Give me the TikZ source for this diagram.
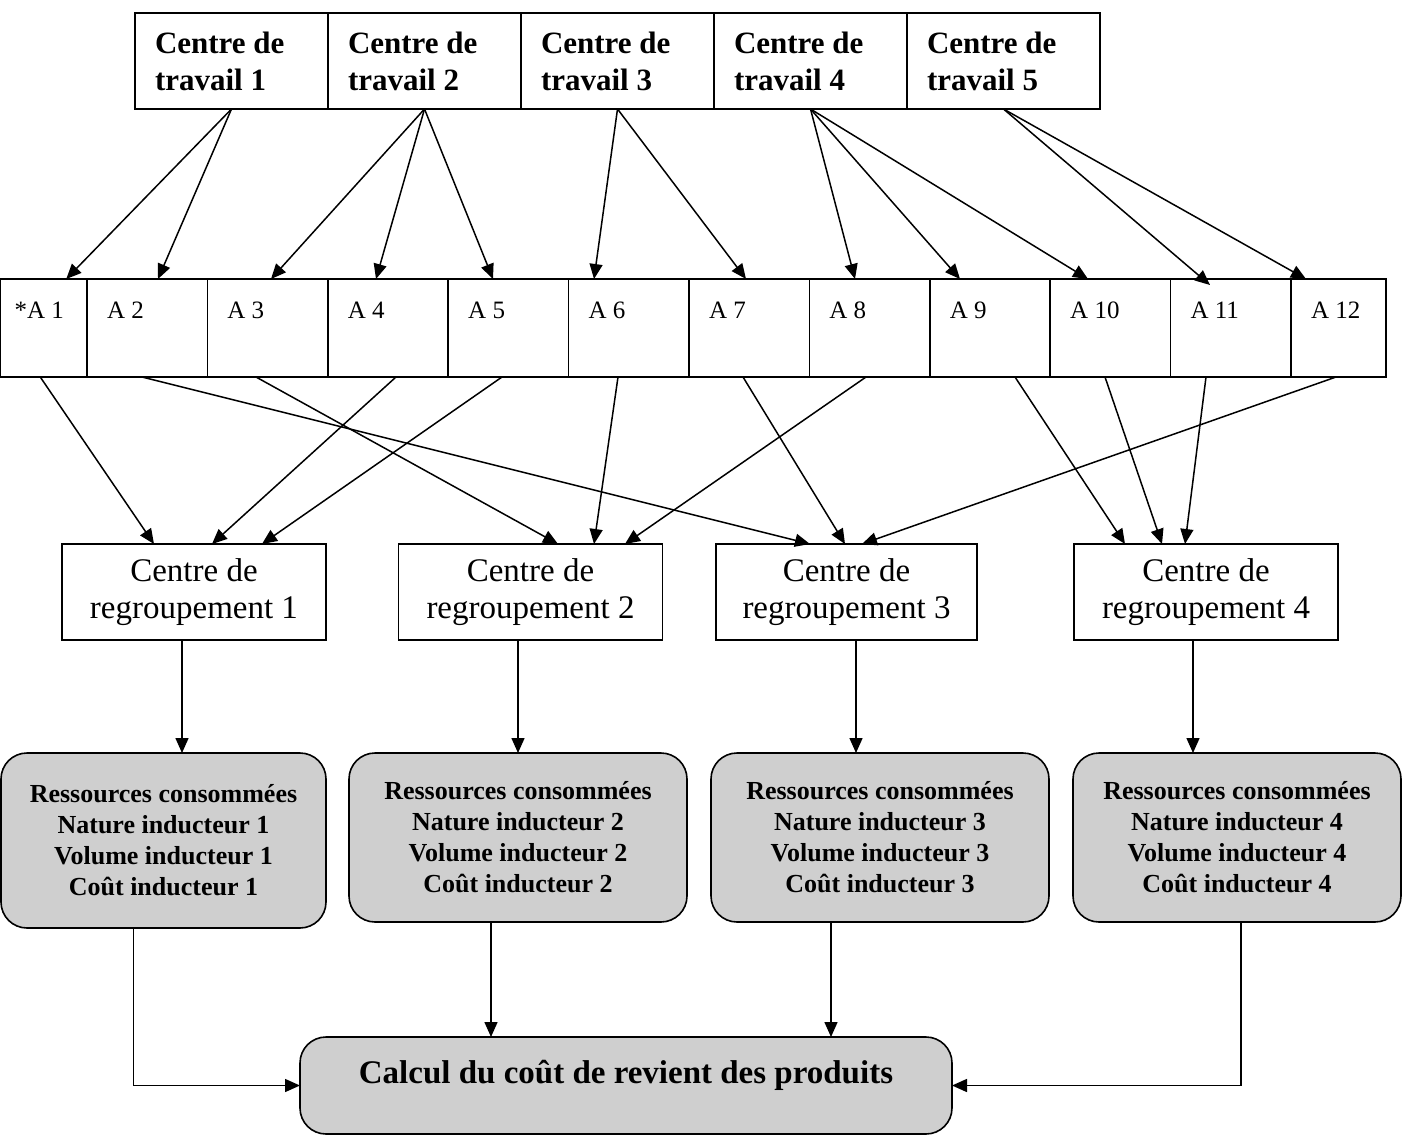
\documentclass[tikz,border=0pt]{standalone}
\usepackage{fontspec}
\setmainfont{Liberation Serif}
\usetikzlibrary{arrows.meta}
\definecolor{patgray}{gray}{0.81}

\begin{document}
\begin{tikzpicture}[x=0.5pt, y=-0.5pt, inner sep=0, outer sep=0, line width=0.8pt,
  workbox/.style={rectangle, draw=black, anchor=north west, align=flush left,
    minimum height=48pt, text width=76.5pt, inner xsep=10pt,
    font=\fontsize{15.5}{18.5}\selectfont\bfseries},
  actbox/.style={rectangle, draw=black, anchor=north west, align=flush left,
    text height=19.5pt, text depth=29.5pt, text width=40.2pt, inner xsep=10pt,
    font=\fontsize{12.5}{15}\selectfont},
  grpbox/.style={rectangle, draw=black, align=center,
    minimum width=132pt, minimum height=48pt,
    font=\fontsize{16.5}{18.5}\selectfont},
  resbox/.style={rectangle, draw=black, fill=patgray, rounded corners=13pt, align=center,
    minimum width=169pt, minimum height=84.5pt,
    font=\fontsize{13}{15.5}\selectfont\bfseries},
  arr/.style={-{Triangle[length=7.5pt, width=6.5pt]}, line width=0.75pt}]

  \useasboundingbox (0,0) rectangle (1403,1135);

  \node[workbox] (ct1) at (135,13) {Centre de\\travail 1};
  \node[workbox] (ct2) at (ct1.north east) {Centre de\\travail 2};
  \node[workbox] (ct3) at (ct2.north east) {Centre de\\travail 3};
  \node[workbox] (ct4) at (ct3.north east) {Centre de\\travail 4};
  \node[workbox] (ct5) at (ct4.north east) {Centre de\\travail 5};

  \node[actbox, text width=29.25pt, inner xsep=7pt] (a1) at (0.5,279) {*A 1};
  \node[actbox] (a2) at (a1.north east) {A 2};
  \node[actbox] (a3) at (a2.north east) {A 3};
  \node[actbox] (a4) at (a3.north east) {A 4};
  \node[actbox] (a5) at (a4.north east) {A 5};
  \node[actbox] (a6) at (a5.north east) {A 6};
  \node[actbox] (a7) at (a6.north east) {A 7};
  \node[actbox] (a8) at (a7.north east) {A 8};
  \node[actbox] (a9) at (a8.north east) {A 9};
  \node[actbox] (a10) at (a9.north east) {A 10};
  \node[actbox] (a11) at (a10.north east) {A 11};
  \node[actbox, text width=27.5pt] (a12) at (a11.north east) {A 12};

  \node[grpbox] (r1) at (194,592) {Centre de\\regroupement 1};
  \node[grpbox] (r2) at (530.5,592) {Centre de\\regroupement 2};
  \node[grpbox, minimum width=130.5pt] (r3) at (846.5,592) {Centre de\\regroupement 3};
  \node[grpbox] (r4) at (1206,592) {Centre de\\regroupement 4};

  \node[resbox, minimum width=162.5pt, minimum height=87.5pt] (g1) at (163.5,840.5)
    {Ressources consommées\\Nature inducteur 1\\Volume inducteur 1\\Coût inducteur 1};
  \node[resbox] (g2) at (518,837.5)
    {Ressources consommées\\Nature inducteur 2\\Volume inducteur 2\\Coût inducteur 2};
  \node[resbox] (g3) at (880,837.5)
    {Ressources consommées\\Nature inducteur 3\\Volume inducteur 3\\Coût inducteur 3};
  \node[resbox, minimum width=164pt] (g4) at (1237,837.5)
    {Ressources consommées\\Nature inducteur 4\\Volume inducteur 4\\Coût inducteur 4};

  \node[resbox, minimum width=326pt, minimum height=48.5pt,
    text height=11pt, text depth=13.5pt,
    font=\fontsize{16.5}{18.5}\selectfont\bfseries] (bot) at (626,1085.5)
    {Calcul du coût de revient des produits};

  % travail -> activites
  \draw[arr] (ct1.south) -- ([xshift=11.25pt]a1.north);
  \draw[arr] (ct1.south) -- ([xshift=5.4pt]a2.north);
  \draw[arr] (ct2.south) -- ([xshift=1.7pt]a3.north);
  \draw[arr] (ct2.south) -- ([xshift=-6pt]a4.north);
  \draw[arr] (ct2.south) -- ([xshift=-7.7pt]a5.north);
  \draw[arr] (ct3.south) -- ([xshift=-17.4pt]a6.north);
  \draw[arr] (ct3.south) -- ([xshift=-1.6pt]a7.north);
  \draw[arr] (ct4.south) -- ([xshift=-7.3pt]a8.north);
  \draw[arr] (ct4.south) -- ([xshift=-15pt]a9.north);
  \draw[arr] (ct4.south) -- ([xshift=-11.2pt]a10.north);
  \draw[arr] (ct5.south) -- ([xshift=-10.4pt, yshift=-3pt]a11.north);
  \draw[arr] (ct5.south) -- ([xshift=-16.25pt]a12.north);

  % activites -> regroupement
  \draw[arr] ([xshift=-1.75pt]a1.south) -- ([xshift=-20pt]r1.north);
  \draw[arr] ([xshift=-2.6pt]a2.south) -- ([xshift=-18.25pt]r3.north);
  \draw[arr] ([xshift=-5.8pt]a3.south) -- ([xshift=13.75pt]r2.north);
  \draw[arr] ([xshift=4pt]a4.south) -- ([xshift=9pt]r1.north);
  \draw[arr] ([xshift=-3.2pt]a5.south) -- ([xshift=34pt]r1.north);
  \draw[arr] ([xshift=-5.4pt]a6.south) -- ([xshift=31.75pt]r2.north);
  \draw[arr] ([xshift=-3.1pt]a7.south) -- ([xshift=-0.75pt]r3.north);
  \draw[arr] ([xshift=-1.8pt]a8.south) -- ([xshift=47.25pt]r2.north);
  \draw[arr] ([xshift=12.5pt]a9.south) -- ([xshift=-40.5pt]r4.north);
  \draw[arr] ([xshift=-2.7pt]a10.south) -- ([xshift=-22pt]r4.north);
  \draw[arr] ([xshift=-12.4pt]a11.south) -- ([xshift=-10.5pt]r4.north);
  \draw[arr] ([xshift=-1.25pt]a12.south) -- ([xshift=7.75pt]r3.north);

  \draw[arr] ([xshift=-6pt]r1.south) -- ([xshift=-6pt]r1.south |- g1.north);
  \draw[arr] ([xshift=-6.25pt]r2.south) -- ([xshift=-6.25pt]r2.south |- g2.north);
  \draw[arr] ([xshift=4.75pt]r3.south) -- ([xshift=4.75pt]r3.south |- g3.north);
  \draw[arr] ([xshift=-6.5pt]r4.south) -- ([xshift=-6.5pt]r4.south |- g4.north);

  \draw[arr] ([xshift=-15pt]g1.south) |- (bot.west);
  \draw[arr] ([xshift=-13.5pt]g2.south) -- ([xshift=-13.5pt]g2.south |- bot.north);
  \draw[arr] ([xshift=-24.5pt]g3.south) -- ([xshift=-24.5pt]g3.south |- bot.north);
  \draw[arr] ([xshift=2pt]g4.south) |- (bot.east);
\end{tikzpicture}
\end{document}
